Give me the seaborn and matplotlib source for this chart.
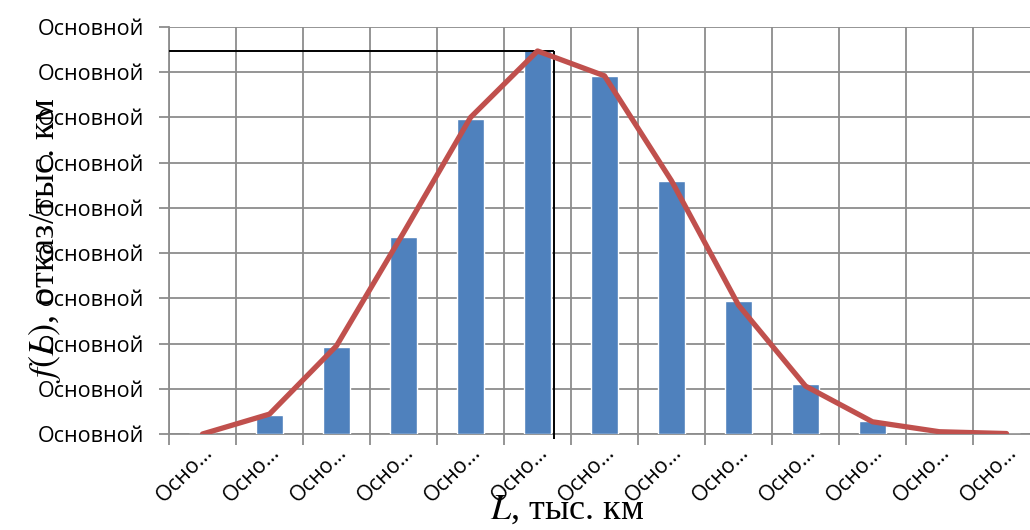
import matplotlib
matplotlib.use("Agg")
import matplotlib.pyplot as plt
import matplotlib.transforms as mtransforms
import seaborn as sns
import pandas as pd
import numpy as np

# Category tick labels (truncated interval names)
categories = ["Осно…"] * 13
# Histogram of observed failures per interval
bar_values = [0.0, 0.42, 1.92, 4.36, 6.97, 8.50, 7.92, 5.60, 2.94, 1.11, 0.29, 0.0, 0.0]
# Fitted density curve
curve_values = [0.0, 0.44, 1.95, 4.45, 7.00, 8.47, 7.92, 5.60, 2.85, 1.06, 0.27, 0.05, 0.01]
# Mode of the fitted distribution (x in category units, y in density units)
mode_x = 5.25
mode_y = 8.47
# Y tick labels
y_ticks = list(range(10))
y_labels = ["Основной"] * 10

sns.set_theme(style="white", rc={"text.color": "black",
                                 "xtick.labelcolor": "black",
                                 "ytick.labelcolor": "black",
                                 "axes.labelcolor": "black"})
plt.rcParams["font.family"] = ["Open Sans", "DejaVu Sans"]
plt.rcParams["mathtext.fontset"] = "stix"

BLUE = "#4F81BD"
RED = "#C0504D"
GRID = "#8C8C8C"
TICK_FS = 15.5

fig = plt.figure(figsize=(10.30, 5.30), dpi=100)
ax = fig.add_axes([169 / 1030, 1 - 434 / 530, 871 / 1030, 407 / 530])

pos = list(range(len(categories)))
df_bar = pd.DataFrame({"pos": pos, "value": bar_values})
df_line = pd.DataFrame({"pos": pos, "value": curve_values})

sns.barplot(data=df_bar, x="pos", y="value", order=pos, width=0.4,
            color=BLUE, saturation=1, ax=ax, zorder=3)
sns.lineplot(data=df_line, x="pos", y="value", color=RED, linewidth=3.8,
             ax=ax, zorder=5, solid_capstyle="round", solid_joinstyle="round")

# Mode guide lines
ax.hlines(mode_y, -0.5, mode_x, color="black", linewidth=1.4, zorder=4)
ax.vlines(mode_x, -0.12, mode_y, color="black", linewidth=1.4, zorder=4,
          clip_on=False)

ax.set_xlim(-0.5, len(categories) - 0.5)
ax.set_ylim(0, 9)

# Ticks: labels at category centers, marks and grid at boundaries
ax.set_xticks(pos)
ax.set_xticklabels(categories, rotation=45, ha="right", rotation_mode="anchor",
                   fontsize=TICK_FS)
shift = mtransforms.ScaledTranslation(23 / 100, 0, fig.dpi_scale_trans)
for lbl in ax.get_xticklabels():
    lbl.set_transform(lbl.get_transform() + shift)
ax.set_xticks(np.arange(-0.5, len(categories)), minor=True)
ax.tick_params(axis="x", which="major", length=0, pad=6)
ax.tick_params(axis="x", which="minor", length=8, width=1.3, color=GRID,
               direction="out", bottom=True)
ax.set_yticks(y_ticks)
ax.set_yticklabels(y_labels, fontsize=TICK_FS)
ax.tick_params(axis="y", length=7, width=1.3, color=GRID, direction="out",
               left=True, pad=11)

ax.grid(False)
ax.grid(axis="y", which="major", color=GRID, linewidth=1.3, zorder=0)
ax.grid(axis="x", which="minor", color=GRID, linewidth=1.3, zorder=0)
ax.set_axisbelow(True)

for side in ["top", "right"]:
    ax.spines[side].set_visible(False)
for side in ["left", "bottom"]:
    ax.spines[side].set_color(GRID)
    ax.spines[side].set_linewidth(1.3)

serif = ["Liberation Serif", "DejaVu Serif"]
ax.set_xlabel(r"$L$, тыс. км", fontsize=26, family=serif)
ax.xaxis.set_label_coords((567 - 169) / 871, (434 - 510) / 407)
ax.xaxis.label.set_va("center")
ax.set_ylabel(r"$f(L)$, отказ/тыс. км", fontsize=26, family=serif)
ax.yaxis.set_label_coords((45 - 169) / 871, (434 - 240) / 407)
ax.yaxis.label.set_va("center")

fig.savefig("out.png", dpi=100)
